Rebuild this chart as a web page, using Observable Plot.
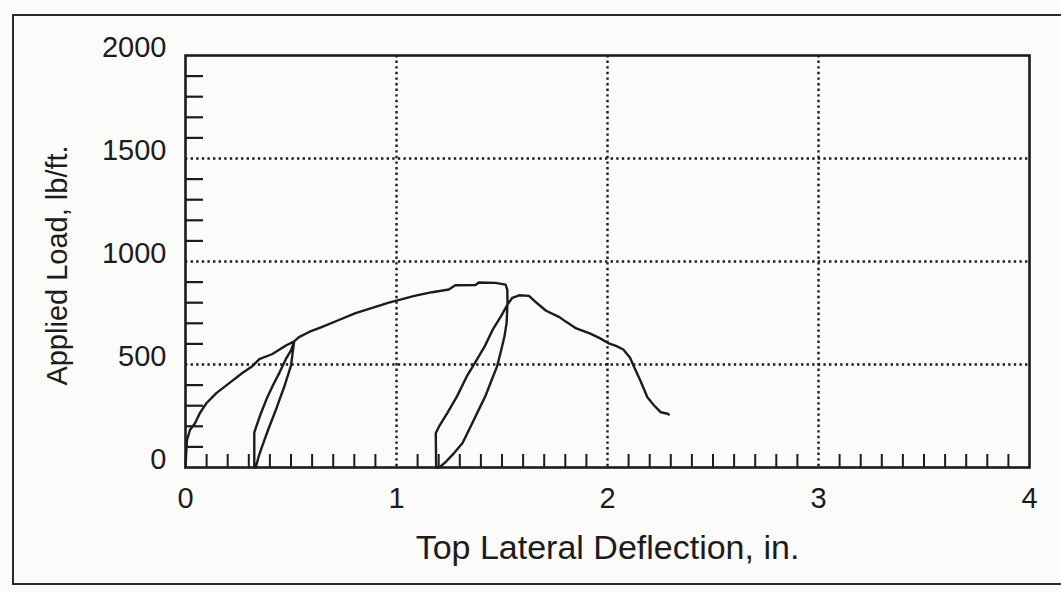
<!DOCTYPE html>
<html>
<head>
<meta charset="utf-8">
<script src="https://cdn.jsdelivr.net/npm/d3@7"></script>
<script src="https://cdn.jsdelivr.net/npm/@observablehq/plot@0.6"></script>
<style>
  html, body { margin: 0; padding: 0; background: #fbfbf9; }
  #wrap { position: relative; width: 1061px; height: 592px; overflow: hidden; }
  #border { position: absolute; left: 12px; top: 14px; width: 1100px; height: 567px;
            border: 2px solid #2a2a2a; border-right: none; pointer-events: none; }
  svg { position: absolute; left: 0; top: 0; }
</style>
</head>
<body>
<div id="wrap"><div id="border"></div></div>
<script>
// Load–deflection record (in., lb/ft.)
const deflection = [
  0, 0.003, 0.007, 0.021, 0.045, 0.068, 0.099, 0.146, 0.209, 0.271, 0.318, 0.35, 0.412, 0.476, 0.515,
  0.50, 0.47, 0.447, 0.424, 0.393, 0.37, 0.348, 0.333,
  0.326, 0.326, 0.353, 0.384, 0.414, 0.446, 0.476, 0.50, 0.515,
  0.538, 0.586, 0.648, 0.727, 0.806, 0.885, 0.964, 1.0, 1.09, 1.169, 1.248, 1.279, 1.374, 1.39, 1.469, 1.517, 1.525,
  1.526, 1.522, 1.512, 1.497, 1.477, 1.452, 1.421, 1.39, 1.352, 1.313, 1.273, 1.235, 1.203,
  1.188, 1.186, 1.201, 1.24, 1.286, 1.333, 1.371, 1.418, 1.456, 1.495, 1.526, 1.549, 1.581, 1.628,
  1.661, 1.709, 1.772, 1.804, 1.852, 1.916, 1.963, 2.003, 2.043, 2.075, 2.107, 2.124, 2.156, 2.189,
  2.221, 2.253, 2.285, 2.29
];
const load = [
  0, 65, 133, 182, 215, 264, 312, 361, 411, 460, 493, 526, 551, 592, 612,
  495, 398, 333, 268, 187, 122, 58, 0,
  0, 170, 251, 332, 398, 462, 527, 568, 612,
  633, 658, 683, 716, 749, 775, 800, 810, 834, 851, 864, 885, 886, 898, 896, 888, 864,
  800, 703, 638, 573, 492, 427, 346, 281, 200, 119, 70, 29, 0,
  0, 166, 198, 263, 344, 442, 507, 588, 669, 734, 791, 824, 836, 833,
  802, 761, 730, 707, 675, 651, 628, 604, 589, 573, 533, 493, 421, 341,
  301, 268, 261, 257
];
const xTicks = [0, 1, 2, 3, 4];
const yTicks = [0, 500, 1000, 1500, 2000];
const xGrid = [1, 2, 3];
const yGrid = [500, 1000, 1500];
const xMinor = d3.range(1, 40).filter(i => i % 10 !== 0).map(i => i / 10);
const yMinor = d3.range(1, 20).filter(i => i % 5 !== 0).map(i => i * 100);
const xTitle = "Top Lateral Deflection, in.";
const yTitle = "Applied Load, lb/ft.";

const W = 1061, H = 592, mL = 185, mR = 32, mT = 55, mB = 125;
const plotW = W - mL - mR, plotH = H - mT - mB;
const ink = "#1c1c1c";
const data = deflection.map((d, i) => ({x: d, y: load[i]}));

const chart = Plot.plot({
  width: W, height: H,
  marginLeft: mL, marginRight: mR, marginTop: mT, marginBottom: mB,
  style: {background: "transparent", fontFamily: "'Liberation Sans', Arial, sans-serif", color: ink},
  x: {domain: [0, 4]},
  y: {domain: [0, 2000]},
  marks: [
    Plot.gridX(xGrid, {stroke: ink, strokeOpacity: 1, strokeWidth: 2.4, strokeDasharray: "2.4,3.2"}),
    Plot.gridY(yGrid, {stroke: ink, strokeOpacity: 1, strokeWidth: 2.4, strokeDasharray: "2.4,3.2"}),
    Plot.tickY(yMinor, {y: d => d, stroke: ink, strokeWidth: 2.2, insetRight: plotW - 18}),
    Plot.tickX(xMinor, {x: d => d, stroke: ink, strokeWidth: 2, insetTop: plotH - 13}),
    Plot.axisX(xTicks, {tickSize: 0, tickPadding: 20, fontSize: 29, label: null, tickFormat: d => String(d)}),
    Plot.axisY(yTicks, {tickSize: 0, tickPadding: 19, dy: -8, fontSize: 29, label: null, tickFormat: d => String(d)}),
    Plot.line(data, {x: "x", y: "y", stroke: ink, strokeWidth: 2.4, strokeLinejoin: "round"}),
    Plot.frame({stroke: ink, strokeWidth: 2.6}),
    Plot.text([xTitle], {frameAnchor: "bottom", lineAnchor: "middle", textAnchor: "middle", dy: 81, fontSize: 34, letterSpacing: "1px", fill: ink}),
    Plot.text([yTitle], {frameAnchor: "left", lineAnchor: "middle", textAnchor: "middle", dx: -128, dy: 4, rotate: -90, fontSize: 29, fill: ink})
  ]
});
document.getElementById("wrap").prepend(chart);
</script>
</body>
</html>
